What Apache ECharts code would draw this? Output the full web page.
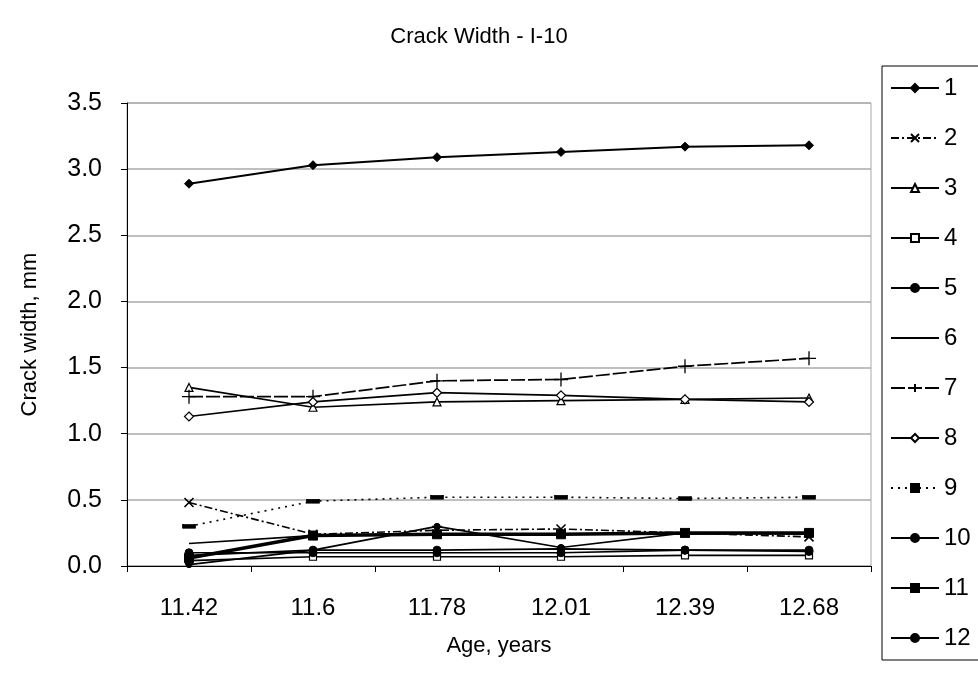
<!DOCTYPE html>
<html>
<head>
<meta charset="utf-8">
<script src="https://cdn.jsdelivr.net/npm/echarts@6/dist/echarts.min.js"></script>
<style>
html,body{margin:0;padding:0;background:#fff;}
#c{width:978px;height:674px;}
</style>
</head>
<body>
<div id="c"></div>
<script>
const categories = ['11.42', '11.6', '11.78', '12.01', '12.39', '12.68'];
const yTicks = [0, 0.5, 1.0, 1.5, 2.0, 2.5, 3.0, 3.5];
const s1 = [2.89, 3.03, 3.09, 3.13, 3.17, 3.18];
const s2 = [0.48, 0.24, 0.27, 0.28, 0.25, 0.22];
const s3 = [1.35, 1.20, 1.24, 1.25, 1.26, 1.27];
const s4 = [0.04, 0.07, 0.07, 0.07, 0.08, 0.08];
const s5 = [0.08, 0.12, 0.12, 0.13, 0.12, 0.11];
const s6 = [0.17, 0.23, 0.24, 0.24, 0.24, 0.25];
const s7 = [1.28, 1.28, 1.40, 1.41, 1.51, 1.57];
const s8 = [1.13, 1.24, 1.31, 1.29, 1.26, 1.24];
const s9 = [0.30, 0.49, 0.52, 0.52, 0.51, 0.52];
const s10 = [0.10, 0.10, 0.10, 0.10, 0.12, 0.12];
const s11 = [0.06, 0.23, 0.24, 0.24, 0.25, 0.25];
const s12 = [0.01, 0.12, 0.30, 0.14, 0.25, 0.24];

const FONT = 'Liberation Sans, Arial, sans-serif';
const crossPath = 'path://M0,0L10,10M10,0L0,10';
const plusPath = 'path://M5,0L5,10M0,5L10,5';

function mk(name, data, opt) {
  return Object.assign({
    name: name,
    type: 'line',
    data: data,
    symbol: 'circle',
    symbolSize: 7,
    lineStyle: { color: '#000', width: 1.7, type: 'solid' },
    itemStyle: { color: '#000', borderColor: '#000', borderWidth: 1 },
    animation: false,
    z: 3
  }, opt);
}

const series = [
  mk('1', s1, { symbol: 'diamond', symbolSize: 9, lineStyle: { color: '#000', width: 2, type: 'solid' } }),
  mk('2', s2, { symbol: crossPath, symbolSize: 9, lineStyle: { color: '#000', width: 1.6, type: [8, 3, 2, 3] }, itemStyle: { color: 'rgba(0,0,0,0)', borderColor: '#000', borderWidth: 1.6 } }),
  mk('3', s3, { symbol: 'triangle', symbolSize: 8, itemStyle: { color: '#fff', borderColor: '#000', borderWidth: 1.2 } }),
  mk('4', s4, { symbol: 'rect', symbolSize: 7, itemStyle: { color: '#fff', borderColor: '#000', borderWidth: 1.2 } }),
  mk('5', s5, { symbol: 'circle', symbolSize: 8 }),
  mk('6', s6, { symbol: 'none' }),
  mk('7', s7, { symbol: plusPath, symbolSize: 14, lineStyle: { color: '#000', width: 1.7, type: [14, 3] }, itemStyle: { color: 'rgba(0,0,0,0)', borderColor: '#000', borderWidth: 1.3 } }),
  mk('8', s8, { symbol: 'diamond', symbolSize: 9, itemStyle: { color: '#fff', borderColor: '#000', borderWidth: 1.2 } }),
  mk('9', s9, { symbol: 'rect', symbolSize: [12, 4], lineStyle: { color: '#000', width: 1.6, type: [2, 5] } }),
  mk('10', s10, { symbol: 'circle', symbolSize: 8 }),
  mk('11', s11, { symbol: 'rect', symbolSize: 9, lineStyle: { color: '#000', width: 3.5, type: 'solid' } }),
  mk('12', s12, { symbol: 'circle', symbolSize: 6 })
];

const legendData = series.map(s => s.name === '6'
  ? { name: s.name, itemStyle: { color: 'rgba(0,0,0,0)', borderWidth: 0 } }
  : { name: s.name });

const chart = echarts.init(document.getElementById('c'), null, { renderer: 'canvas' });
chart.setOption({
  backgroundColor: '#fff',
  animation: false,
  textStyle: { fontFamily: FONT },
  title: {
    text: 'Crack Width - I-10',
    left: 474,
    textAlign: 'center',
    top: 21,
    textStyle: { fontFamily: FONT, fontSize: 22, fontWeight: 'normal', color: '#000' }
  },
  grid: {
    left: 127, right: 107, top: 103, bottom: 108,
    show: true, borderColor: '#aaa', borderWidth: 1, backgroundColor: 'transparent'
  },
  legend: {
    orient: 'vertical',
    left: 882,
    top: 66,
    padding: [10, 60, 10, 8],
    itemWidth: 48,
    itemHeight: 10,
    itemGap: 26,
    borderColor: '#000',
    borderWidth: 1,
    textStyle: { fontFamily: FONT, fontSize: 24, color: '#000', lineHeight: 24 },
    data: legendData
  },
  xAxis: {
    type: 'category',
    data: categories,
    boundaryGap: true,
    name: 'Age, years',
    nameLocation: 'middle',
    nameGap: 69,
    nameTextStyle: { fontFamily: FONT, fontSize: 22, color: '#000' },
    axisLine: { lineStyle: { color: '#000', width: 1 } },
    axisTick: { show: true, length: 6, lineStyle: { color: '#000' } },
    axisLabel: { fontFamily: FONT, fontSize: 24, color: '#000', margin: 30 },
    splitLine: { show: false }
  },
  yAxis: {
    type: 'value',
    min: yTicks[0],
    max: yTicks[yTicks.length - 1],
    interval: 0.5,
    name: 'Crack width, mm',
    nameLocation: 'middle',
    nameGap: 86,
    nameTextStyle: { fontFamily: FONT, fontSize: 22, color: '#000' },
    axisLine: { show: true, lineStyle: { color: '#000', width: 1 } },
    axisTick: { show: true, length: 6, lineStyle: { color: '#000' } },
    axisLabel: { fontFamily: FONT, fontSize: 25, color: '#000', margin: 25, formatter: v => v.toFixed(1) },
    splitLine: { show: true, lineStyle: { color: '#aaa', width: 1.5 } }
  },
  series: series
});
</script>
</body>
</html>
